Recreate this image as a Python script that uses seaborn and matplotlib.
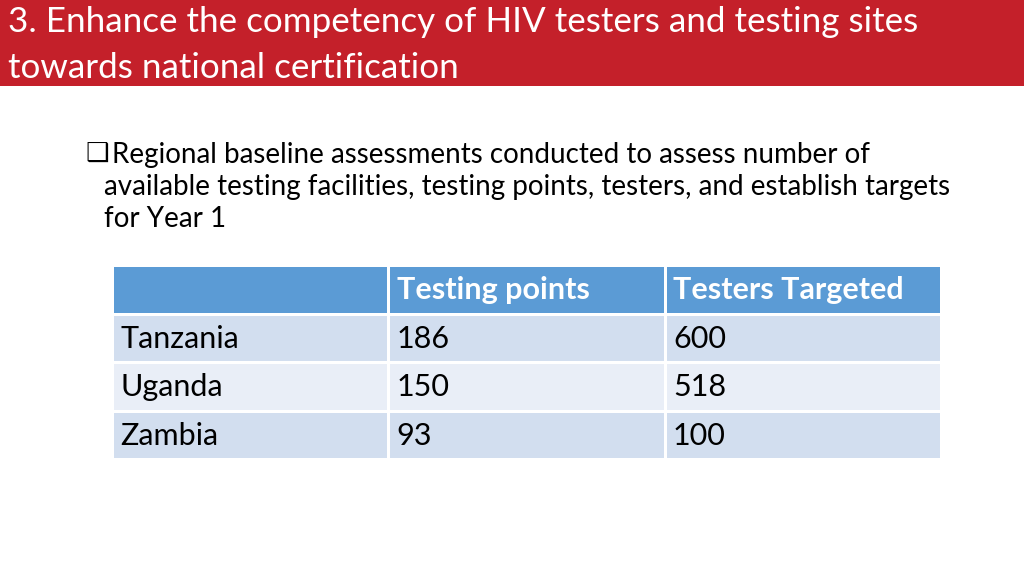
#!/usr/bin/env python3

import pandas as pd
import numpy as np
import matplotlib.pyplot as plt
from matplotlib.colors import ListedColormap
import seaborn as sns

# slide text
title_lines = ["3. Enhance the competency of HIV testers and testing sites",
               "towards national certification"]
bullet_lines = ["Regional baseline assessments conducted to assess number of",
                "available testing facilities, testing points, testers, and establish targets",
                "for Year 1"]

# table data
countries = ["Tanzania", "Uganda", "Zambia"]
testing_points = [186, 150, 93]
testers_targeted = [600, 518, 100]
columns = ["", "Testing points", "Testers Targeted"]

sns.set_style("white")
plt.rcParams['font.family'] = ['Lato', 'DejaVu Sans']
plt.rcParams['text.color'] = 'black'

W, H = 1024, 576
fig = plt.figure(figsize=(W / 100, H / 100), dpi=100)

# red title bar
bar = fig.add_axes([0, 1 - 86 / H, 1, 86 / H])
bar.set_facecolor("#C4202A")
bar.set_xticks([])
bar.set_yticks([])
for s in bar.spines.values():
    s.set_visible(False)
for i, line in enumerate(title_lines):
    fig.text(8 / W, 1 - (22 + 46 * i) / H, line, color="white", fontsize=25.2,
             va="center", ha="left")

# bullet
fig.text(85 / W, 1 - 154 / H, "\u2751", fontsize=19, va="center", ha="left",
         family=['DejaVu Sans'])
for i, line in enumerate(bullet_lines):
    x = 112 if i == 0 else 104
    fig.text(x / W, 1 - (155 + 32 * i) / H, line, fontsize=20,
             va="center", ha="left")

# table drawn as a heatmap of cell styles
df = pd.DataFrame({"Country": countries,
                   "Testing points": testing_points,
                   "Testers Targeted": testers_targeted})
style = np.array([[2, 2, 2]] + [[1 if r % 2 == 0 else 0] * 3 for r in range(len(df))])
cmap = ListedColormap(["#E9EEF7", "#D2DEEF", "#5B9BD5"])

ax = fig.add_axes([112 / W, 1 - 459 / H, 829 / W, 194 / H])
sns.heatmap(style, cmap=cmap, vmin=-0.5, vmax=2.5, cbar=False, linewidths=2,
            linecolor="white", ax=ax, xticklabels=False, yticklabels=False)

for j, col in enumerate(columns):
    ax.text(j + 0.03, 0.52, col, color="white", fontsize=22, weight="bold",
            va="center", ha="left")
for r, row in df.iterrows():
    for j, val in enumerate(row):
        ax.text(j + 0.03, r + 1.52, str(val), color="black", fontsize=22,
                va="center", ha="left")

fig.savefig("out.png", dpi=100)
